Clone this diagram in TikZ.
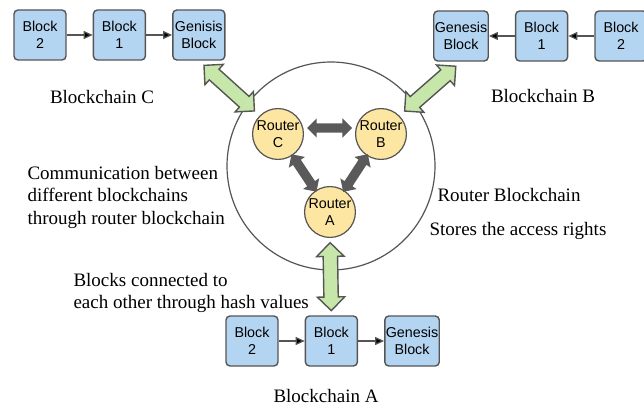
\documentclass[tikz,border=0pt]{standalone}
\usepackage{fontspec}
\setmainfont{Liberation Serif}
\setsansfont{Liberation Sans}
\usetikzlibrary{positioning, shapes.arrows, arrows.meta}
\definecolor{blockblue}{HTML}{B4D5F1}
\definecolor{routeryellow}{HTML}{FDE6A2}
\definecolor{linkgreen}{HTML}{C6E6AA}
\definecolor{edgegray}{HTML}{555555}
\definecolor{arrowgray}{HTML}{5A5A5A}

\begin{document}
\begin{tikzpicture}[x=1pt, y=-1pt, node distance = 26pt,
    block/.style={draw=edgegray, fill=blockblue, line width=1.4pt, rounded corners=4pt, minimum width=52pt, minimum height=50pt, inner sep=1pt, align=center, font=\sffamily\fontsize{14.3}{17.5}\selectfont},
    router/.style={circle, draw=edgegray, fill=routeryellow, line width=1.2pt, minimum size=50pt, inner sep=0pt, align=center, font=\sffamily\fontsize{14.3}{17.5}\selectfont},
    chaintext/.style={font=\fontsize{19}{22.5}\selectfont},
    chainarrow/.style={-{Triangle[length=9pt, width=8pt]}, draw=edgegray, line width=1.2pt},
    greenlink/.style={double arrow, draw=edgegray, fill=linkgreen, line width=1.4pt, inner xsep=0pt, inner ysep=6.5pt, double arrow head extend=6.5pt, minimum height=68pt, sloped},
    routerlink/.style={double arrow, fill=arrowgray, inner xsep=0pt, inner ysep=4.5pt, double arrow head extend=5pt, minimum height=45pt, sloped}]
      \useasboundingbox (0,0) rectangle (644,406);

      \node[block] (bC2) at (40,35) {Block\\2};
      \node[block] (bC1) [right = of bC2] {Block\\1};
      \node[block] (gC) [right = of bC1] {Genisis\\Block};

      \node[block] (gB) at (461,36) {Genesis\\Block};
      \node[block] (bB1) [right = of gB] {Block\\1};
      \node[block] (bB2) [right = of bB1] {Block\\2};

      \node[block] (bA2) at (252,341) {Block\\2};
      \node[block] (bA1) [right = of bA2] {Block\\1};
      \node[block] (gA) [right = of bA1] {Genesis\\Block};

      \node[circle, draw=edgegray, line width=1.2pt, minimum size=208pt] (rbc) at (331,166) {};
      \node[router] (rC) at (278,134) {Router\\C};
      \node[router] (rB) at (381,134) {Router\\B};
      \node[router] (rA) at (330,212) {Router\\A};

      \path[chainarrow] (bC2) edge (bC1) (bC1) edge (gC);
      \path[chainarrow] (bB2) edge (bB1) (bB1) edge (gB);
      \path[chainarrow] (bA2) edge (bA1) (bA1) edge (gA);

      \path ([yshift=6pt]rC.east) -- ([yshift=6pt]rB.west) node[midway, routerlink] {};
      \path (rC) -- (rA) node[midway, routerlink] {};
      \path (rB) -- (rA) node[midway, routerlink] {};

      \path (gC.south) -- (rC.north west) node[midway, greenlink] {};
      \path (gB.south) -- (rB.north east) node[midway, greenlink] {};
      \path (rA.south) -- (bA1.north) node[midway, greenlink] {};

      \node[chaintext] (tC) at (102,97) {Blockchain C};
      \node[chaintext] (tB) at (543,96) {Blockchain B};
      \node[chaintext] (tA) at (326,396) {Blockchain A};
      \node[chaintext] (tR) at (509,195) {Router Blockchain};
      \node[chaintext] (tS) at (518,231) {Stores the access rights};
      \node[chaintext, anchor=west, align=left] (tCom) at (24,197) {Communication between\\different blockchains\\through router blockchain};
      \node[chaintext, anchor=west, align=left] (tHash) at (70,293) {Blocks connected to\\each other through hash values};
    \end{tikzpicture}
\end{document}
